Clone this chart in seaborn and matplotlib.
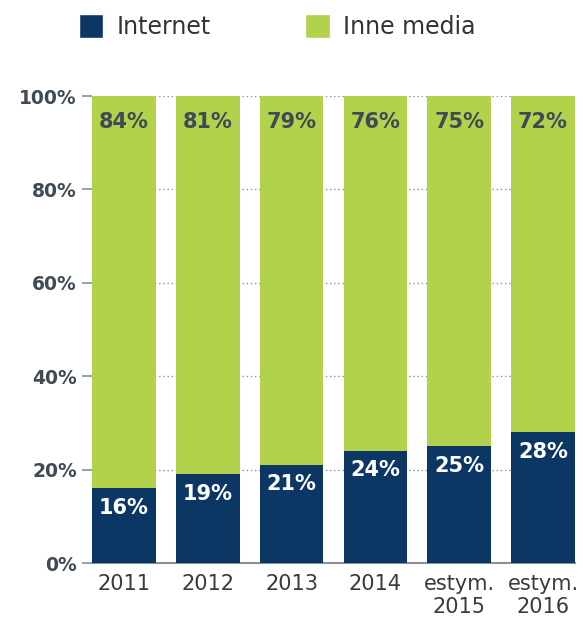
import matplotlib
matplotlib.use("Agg")
import matplotlib.pyplot as plt
import seaborn as sns
import pandas as pd
from matplotlib.patches import Patch

years = ["2011", "2012", "2013", "2014", "estym.\n2015", "estym.\n2016"]
internet = [16, 19, 21, 24, 25, 28]
inne_media = [84, 81, 79, 76, 75, 72]

NAVY = "#0c3764"
GREEN = "#b2d24c"
GREY_TXT = "#3f4a57"

sns.set_theme(style="white")
plt.rcParams["font.family"] = ["DejaVu Sans"]

df = pd.DataFrame({"year": years, "internet": internet, "inne": inne_media})
df["total"] = df["internet"] + df["inne"]

fig = plt.figure(figsize=(5.83, 6.32), dpi=100)
ax = fig.add_axes([0.158, 0.109, 0.828, 0.739])

# gridlines behind bars
ax.set_axisbelow(True)
ax.yaxis.grid(True, linestyle=(0, (1, 2)), color="#8a9097", linewidth=1.0)

sns.barplot(data=df, x="year", y="total", color=GREEN, width=0.76,
            saturation=1, linewidth=0, ax=ax, zorder=2)
sns.barplot(data=df, x="year", y="internet", color=NAVY, width=0.76,
            saturation=1, linewidth=0, ax=ax, zorder=3)

# value labels
for i, row in df.iterrows():
    ax.text(i, row["internet"] - 2.0, f"{row['internet']}%", ha="center", va="top",
            color="white", fontsize=15, fontweight="bold", zorder=4)
    ax.text(i, 96.6, f"{row['inne']}%", ha="center", va="top",
            color=GREY_TXT, fontsize=15, fontweight="bold", zorder=4)

ax.set_ylim(0, 100)
ax.set_xlim(-0.38, 5.38)
ax.set_yticks(range(0, 101, 20))
ax.set_yticklabels([f"{v}%" for v in range(0, 101, 20)], fontsize=13.5,
                   fontweight="bold", color=GREY_TXT)
ax.tick_params(axis="y", length=7, width=1.2, color="#8a9097", pad=4, left=True)
ax.tick_params(axis="x", length=0, pad=8, labelsize=15, labelcolor="#3a3a3a")
ax.set_xlabel("")
ax.set_ylabel("")

for side in ["top", "right", "left"]:
    ax.spines[side].set_visible(False)
ax.spines["bottom"].set_color("#8a9097")
ax.spines["bottom"].set_linewidth(1.5)

handles = [Patch(facecolor=NAVY, label="Internet"),
           Patch(facecolor=GREEN, label="Inne media")]
fig.legend(handles=handles, loc="upper center", bbox_to_anchor=(0.475, 1.012),
           ncol=2, frameon=False, fontsize=17, handlelength=1.05, handleheight=1.2,
           handletextpad=0.55, columnspacing=4.0, labelcolor="#333333")

fig.savefig("out.png", dpi=100)
